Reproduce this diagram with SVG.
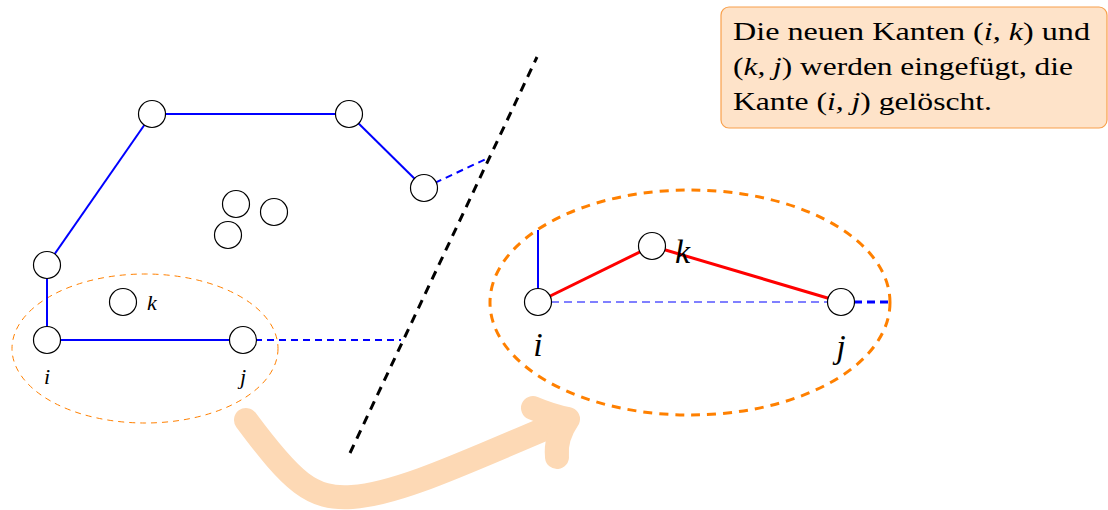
<svg xmlns="http://www.w3.org/2000/svg" width="1108" height="510" viewBox="0 0 1108 510">
<style>
.n{fill:#fff;stroke:#000;stroke-width:1.2}
.b{stroke:#0000ff;stroke-width:2;fill:none}
.bd{stroke:#0000ff;stroke-width:2;fill:none;stroke-dasharray:7,5}
.r{stroke:#ff0000;stroke-width:3;fill:none}
.lbl{font-family:"Liberation Serif",serif;font-style:italic;fill:#000}
.t{font-family:"Liberation Serif",serif;font-size:25px;fill:#000}
</style>
<rect width="1108" height="510" fill="#fff"/>
<g id="arrow" fill="none" stroke="#fdd9b5" stroke-width="24" stroke-linecap="round" stroke-linejoin="round">
<path d="M246,420 C292,482 312,500 352,497 C400,494 470,460 566,420"/>
<path d="M533,408 Q552,416 568,419 Q555,438 557,457"/>
</g>
<g id="ellipses" fill="none">
<ellipse cx="145" cy="348.5" rx="133" ry="74.5" stroke="#ff8000" stroke-width="1" stroke-dasharray="6,5"/>
<ellipse cx="690" cy="302.5" rx="200" ry="112.5" stroke="#ff8000" stroke-width="3" stroke-dasharray="9,7"/>
</g>
<g id="connectors">
<line class="b" x1="47" y1="265" x2="152" y2="114"/>
<line class="b" x1="152" y1="114" x2="349" y2="114"/>
<line class="b" x1="349" y1="114" x2="424" y2="188"/>
<line class="b" x1="47" y1="265" x2="47" y2="340"/>
<line class="b" x1="47" y1="340" x2="243" y2="340"/>
<line class="bd" x1="424" y1="188" x2="488" y2="158"/>
<line class="bd" x1="243" y1="340" x2="401" y2="340"/>
<line x1="350" y1="453" x2="537" y2="57" stroke="#000" stroke-width="3" stroke-dasharray="9,7"/>
<line class="b" x1="538" y1="302" x2="538" y2="230"/>
<line x1="538" y1="302" x2="841" y2="302" stroke="#0000ff" stroke-width="1" stroke-dasharray="8,5"/>
<line x1="841" y1="302" x2="890" y2="302" stroke="#0000ff" stroke-width="3" stroke-dasharray="8,5"/>
<line class="r" x1="538" y1="302" x2="652" y2="246"/>
<line class="r" x1="652" y1="246" x2="841" y2="302"/>
</g>
<g id="nA"><circle class="n" cx="152" cy="114" r="13.5"/></g>
<g id="nB"><circle class="n" cx="349" cy="114" r="13.5"/></g>
<g id="nC"><circle class="n" cx="424" cy="188" r="13.5"/></g>
<g id="nD"><circle class="n" cx="47" cy="265" r="13.5"/></g>
<g id="nE"><circle class="n" cx="236" cy="204" r="13.5"/></g>
<g id="nF"><circle class="n" cx="274" cy="212" r="13.5"/></g>
<g id="nG"><circle class="n" cx="228" cy="235" r="13.5"/></g>
<g id="ni"><circle class="n" cx="47" cy="340" r="13.5"/><text class="lbl" x="47" y="384" font-size="22" text-anchor="middle">i</text></g>
<g id="nj"><circle class="n" cx="243" cy="340" r="13.5"/><text class="lbl" x="243" y="384" font-size="22" text-anchor="middle">j</text></g>
<g id="nk"><circle class="n" cx="123" cy="302" r="13.5"/><text class="lbl" x="147" y="310" font-size="22">k</text></g>
<g id="ni2"><circle class="n" cx="538" cy="302" r="13.5"/><text class="lbl" x="538" y="356" font-size="34" text-anchor="middle">i</text></g>
<g id="nj2"><circle class="n" cx="841" cy="302" r="13.5"/><text class="lbl" x="841" y="358" font-size="34" text-anchor="middle">j</text></g>
<g id="nk2"><circle class="n" cx="652" cy="246" r="13.5"/><text class="lbl" x="675" y="263" font-size="34">k</text></g>
<g id="note">
<rect x="721" y="7" width="386" height="121" rx="8" fill="#fee3c9" stroke="#f8a04c" stroke-width="1.2"/>
<text class="t" x="733" y="40" textLength="357" lengthAdjust="spacingAndGlyphs">Die neuen Kanten (<tspan font-style="italic">i, k</tspan>) und</text>
<text class="t" x="733" y="75" textLength="340" lengthAdjust="spacingAndGlyphs">(<tspan font-style="italic">k, j</tspan>) werden eingefügt, die</text>
<text class="t" x="733" y="110" textLength="259" lengthAdjust="spacingAndGlyphs">Kante (<tspan font-style="italic">i, j</tspan>) gelöscht.</text>
</g>
</svg>
